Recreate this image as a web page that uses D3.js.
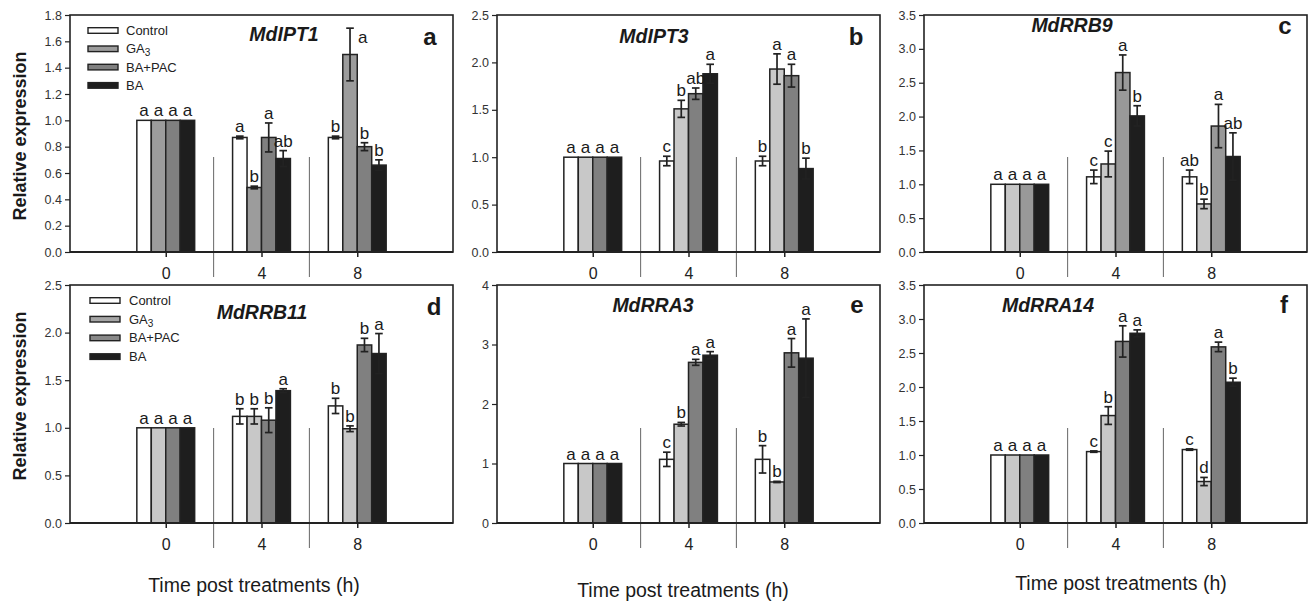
<!DOCTYPE html>
<html><head><meta charset="utf-8">
<script src="https://cdn.jsdelivr.net/npm/d3@7"></script>
<style>
body{margin:0;background:#fff}
svg{display:block}
text{font-family:"Liberation Sans",Arial,Helvetica,sans-serif}
</style>
</head><body>
<svg id="chart" width="1309" height="602"></svg>
<script>
// ---------- data ----------
const hours = [0, 4, 8];
const treatments = ["Control", "GA3", "BA+PAC", "BA"];
const genes = ["MdIPT1", "MdIPT3", "MdRRB9", "MdRRB11", "MdRRA3", "MdRRA14"];
const panelLetters = ["a", "b", "c", "d", "e", "f"];

const yTicksA = [0, 0.2, 0.4, 0.6, 0.8, 1.0, 1.2, 1.4, 1.6, 1.8];
const yTicksB = [0, 0.5, 1.0, 1.5, 2.0, 2.5];
const yTicksC = [0, 0.5, 1.0, 1.5, 2.0, 2.5, 3.0, 3.5];
const yTicksD = [0, 0.5, 1.0, 1.5, 2.0, 2.5];
const yTicksE = [0, 1, 2, 3, 4];
const yTicksF = [0, 0.5, 1.0, 1.5, 2.0, 2.5, 3.0, 3.5];

// rows = treatments (Control, GA3, BA+PAC, BA); columns = hours (0, 4, 8)
const ipt1Mean = [[1, 0.87, 0.87], [1, 0.49, 1.50], [1, 0.87, 0.80], [1, 0.71, 0.66]];
const ipt1Err  = [[0, 0.01, 0.01], [0, 0.01, 0.20], [0, 0.11, 0.03], [0, 0.06, 0.04]];
const ipt1Sig  = [["a", "a", "b"], ["a", "b", "a"], ["a", "a", "b"], ["a", "ab", "b"]];

const ipt3Mean = [[1, 0.96, 0.96], [1, 1.51, 1.93], [1, 1.67, 1.86], [1, 1.88, 0.88]];
const ipt3Err  = [[0, 0.05, 0.05], [0, 0.09, 0.16], [0, 0.06, 0.12], [0, 0.10, 0.11]];
const ipt3Sig  = [["a", "c", "b"], ["a", "b", "a"], ["a", "ab", "a"], ["a", "a", "b"]];

const rrb9Mean = [[1, 1.11, 1.11], [1, 1.30, 0.71], [1, 2.65, 1.86], [1, 2.01, 1.41]];
const rrb9Err  = [[0, 0.10, 0.10], [0, 0.19, 0.07], [0, 0.26, 0.32], [0, 0.15, 0.35]];
const rrb9Sig  = [["a", "c", "ab"], ["a", "c", "b"], ["a", "a", "a"], ["a", "b", "ab"]];

const rrb11Mean = [[1, 1.12, 1.23], [1, 1.12, 0.99], [1, 1.08, 1.87], [1, 1.39, 1.78]];
const rrb11Err  = [[0, 0.08, 0.08], [0, 0.08, 0.03], [0, 0.13, 0.07], [0, 0.02, 0.21]];
const rrb11Sig  = [["a", "b", "b"], ["a", "b", "b"], ["a", "b", "b"], ["a", "a", "a"]];

const rra3Mean = [[1, 1.07, 1.07], [1, 1.66, 0.69], [1, 2.70, 2.86], [1, 2.82, 2.77]];
const rra3Err  = [[0, 0.12, 0.23], [0, 0.03, 0.01], [0, 0.05, 0.24], [0, 0.06, 0.66]];
const rra3Sig  = [["a", "c", "b"], ["a", "b", "b"], ["a", "a", "a"], ["a", "a", "a"]];

const rra14Mean = [[1, 1.05, 1.08], [1, 1.58, 0.61], [1, 2.67, 2.59], [1, 2.79, 2.07]];
const rra14Err  = [[0, 0.01, 0.01], [0, 0.13, 0.06], [0, 0.23, 0.07], [0, 0.05, 0.06]];
const rra14Sig  = [["a", "c", "c"], ["a", "b", "d"], ["a", "a", "a"], ["a", "a", "b"]];

const xTitle = "Time post treatments (h)";
const yTitle = "Relative expression";

// ---------- layout / style ----------
const panels = [
  {mean: ipt1Mean, err: ipt1Err, sig: ipt1Sig, ticks: yTicksA, fmt: ".1f",
   x: 70, y: 15, h: 237, title: [284, 41], letter: [430, 45], legend: [88, 30.5, 18.3, 126],
   fills: ["#ffffff", "#9c9c9c", "#808080", "#1e1e1e"], legendFills: ["#ffffff", "#9c9c9c", "#808080", "#1e1e1e"]},
  {mean: ipt3Mean, err: ipt3Err, sig: ipt3Sig, ticks: yTicksB, fmt: ".1f",
   x: 497, y: 15, h: 237, title: [654, 43], letter: [856, 45],
   fills: ["#ffffff", "#c8c8c8", "#808080", "#1e1e1e"]},
  {mean: rrb9Mean, err: rrb9Err, sig: rrb9Sig, ticks: yTicksC, fmt: ".1f",
   x: 924, y: 15, h: 237, title: [1072, 32], letter: [1285, 34],
   fills: ["#ffffff", "#c8c8c8", "#999999", "#1e1e1e"]},
  {mean: rrb11Mean, err: rrb11Err, sig: rrb11Sig, ticks: yTicksD, fmt: ".1f",
   x: 70, y: 285, h: 238, title: [262, 319], letter: [434, 315], legend: [90, 300.5, 18.7, 129],
   fills: ["#ffffff", "#c8c8c8", "#808080", "#1e1e1e"], legendFills: ["#ffffff", "#a5a5a5", "#888888", "#1e1e1e"],
   xt: [254, 592]},
  {mean: rra3Mean, err: rra3Err, sig: rra3Sig, ticks: yTicksE, fmt: "d",
   x: 497, y: 285, h: 238, title: [653, 312], letter: [857, 313],
   fills: ["#ffffff", "#c8c8c8", "#808080", "#1e1e1e"], xt: [683, 597]},
  {mean: rra14Mean, err: rra14Err, sig: rra14Sig, ticks: yTicksF, fmt: ".1f",
   x: 924, y: 285, h: 238, title: [1048, 312], letter: [1284, 313],
   fills: ["#ffffff", "#c8c8c8", "#808080", "#1e1e1e"], xt: [1121, 590]}
];
const W = 383;
const ink = "#222";

const svg = d3.select("#chart");

panels.forEach((p, pi) => {
  const g = svg.append("g");
  const x = d3.scaleLinear().domain([-4, 12]).range([p.x, p.x + W]);
  const y = d3.scaleLinear().domain([0, d3.max(p.ticks)]).range([p.y + p.h, p.y]);
  const bw = (x(4) - x(0)) * 0.151;
  const base = p.y + p.h;

  // separators between time groups
  [2, 6].forEach(s => {
    g.append("line").attr("x1", x(s)).attr("x2", x(s))
      .attr("y1", base - 95).attr("y2", base + 25)
      .attr("stroke", "#666").attr("stroke-width", 1);
  });

  // bars
  treatments.forEach((t, ti) => {
    hours.forEach((hr, hi) => {
      const m = p.mean[ti][hi];
      const cx = x(hr) + (ti - 1.5) * bw;
      g.append("rect")
        .attr("x", cx - bw / 2).attr("y", y(m))
        .attr("width", bw).attr("height", y(0) - y(m))
        .attr("fill", p.fills[ti]).attr("stroke", ink).attr("stroke-width", 1.5);
    });
  });

  // error bars and letters
  treatments.forEach((t, ti) => {
    hours.forEach((hr, hi) => {
      const m = p.mean[ti][hi], e = p.err[ti][hi];
      const cx = x(hr) + (ti - 1.5) * bw;
      if (e > 0) {
        const y1 = y(m + e), y2 = y(m - e);
        g.append("line").attr("x1", cx).attr("x2", cx).attr("y1", y1).attr("y2", y2)
          .attr("stroke", ink).attr("stroke-width", 1.7);
        [y1, y2].forEach(yy => g.append("line")
          .attr("x1", cx - 3.8).attr("x2", cx + 3.8).attr("y1", yy).attr("y2", yy)
          .attr("stroke", ink).attr("stroke-width", 1.7));
      }
      const topY = y(m + e);
      let lx = cx, ly = topY - 4, anchor = "middle";
      if (ly - 12 < p.y) { lx = cx + 8; ly = topY + 15; anchor = "start"; }
      g.append("text").attr("x", lx).attr("y", ly).attr("text-anchor", anchor)
        .attr("font-size", 17).attr("fill", "#1a1a1a").text(p.sig[ti][hi]);
    });
  });

  // frame
  g.append("rect").attr("x", p.x).attr("y", p.y).attr("width", W).attr("height", p.h)
    .attr("fill", "none").attr("stroke", ink).attr("stroke-width", 1.6);
  g.append("line").attr("x1", p.x).attr("x2", p.x + W).attr("y1", base).attr("y2", base)
    .attr("stroke", ink).attr("stroke-width", 2);

  // y axis
  const ya = g.append("g").attr("transform", `translate(${p.x},0)`)
    .call(d3.axisLeft(y).tickValues(p.ticks).tickSize(5).tickPadding(3).tickFormat(d3.format(p.fmt)));
  ya.select(".domain").remove();
  ya.selectAll("line").attr("stroke", ink).attr("stroke-width", 1.2);
  ya.selectAll("text").attr("font-size", 12.5).attr("fill", "#333")
    .style("font-family", '"Liberation Sans",Arial,sans-serif');

  // x axis
  const xa = g.append("g").attr("transform", `translate(0,${base})`)
    .call(d3.axisBottom(x).tickValues(hours).tickSize(5).tickPadding(11).tickFormat(d3.format("d")));
  xa.select(".domain").remove();
  xa.selectAll("line").attr("stroke", ink).attr("stroke-width", 1.5);
  xa.selectAll("text").attr("font-size", 16).attr("fill", "#222")
    .style("font-family", '"Liberation Sans",Arial,sans-serif');

  // gene title
  g.append("text").attr("x", p.title[0]).attr("y", p.title[1]).attr("text-anchor", "middle")
    .attr("font-size", 19.5).attr("font-weight", "bold").attr("font-style", "italic")
    .attr("fill", "#1a1a1a").text(genes[pi]);
  // panel letter
  g.append("text").attr("x", p.letter[0]).attr("y", p.letter[1]).attr("text-anchor", "middle")
    .attr("font-size", 24).attr("font-weight", "bold").attr("fill", "#1a1a1a").text(panelLetters[pi]);

  // legend
  if (p.legend) {
    const [lx, ly0, step, tx] = p.legend;
    treatments.forEach((t, ti) => {
      const cy = ly0 + ti * step;
      g.append("rect").attr("x", lx).attr("y", cy - 2.8).attr("width", 30).attr("height", 5.6)
        .attr("fill", p.legendFills[ti]).attr("stroke", ink).attr("stroke-width", 1.4);
      const tt = g.append("text").attr("x", tx).attr("y", cy + 4.5)
        .attr("font-size", 13).attr("fill", "#222");
      if (t === "GA3") {
        tt.append("tspan").text("GA");
        tt.append("tspan").attr("font-size", 10).attr("dy", 3).text("3");
      } else tt.text(t);
    });
  }

  // y title (left column)
  if (p.x === 70) {
    const cy = pi === 0 ? 136 : 396;
    g.append("text").attr("transform", `translate(26,${cy}) rotate(-90)`)
      .attr("text-anchor", "middle").attr("font-size", 18).attr("font-weight", "bold")
      .attr("fill", "#1a1a1a").text(yTitle);
  }
  // x title (bottom row)
  if (p.xt) {
    g.append("text").attr("x", p.xt[0]).attr("y", p.xt[1]).attr("text-anchor", "middle")
      .attr("font-size", 19.5).attr("fill", "#1a1a1a").text(xTitle);
  }
});
</script>
</body></html>
